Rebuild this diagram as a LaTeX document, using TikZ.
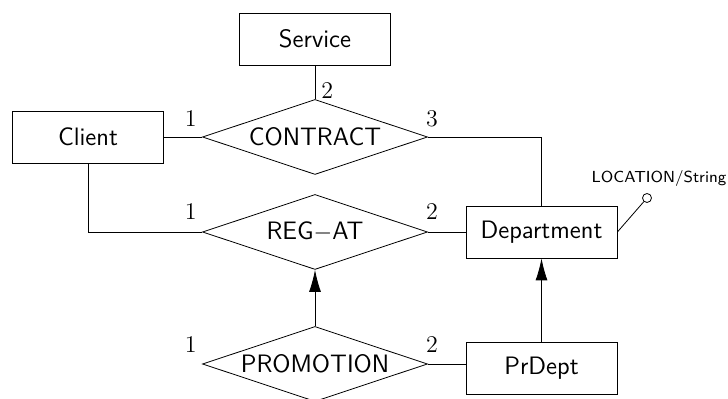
\documentclass[tikz,border=0pt]{standalone}
\usetikzlibrary{positioning}
\usetikzlibrary{shapes.geometric}
\usetikzlibrary{arrows.meta}
\newcommand\erfont{\fontsize{12.6}{15}\selectfont}
\tikzset{
  ent/.style={draw,minimum width=75.5pt,minimum height=26pt,inner sep=0pt,font=\erfont\sffamily},
  rel/.style={draw,diamond,aspect=3,minimum width=112.5pt,minimum height=37.5pt,inner sep=0pt,font=\erfont\sffamily},
  num/.style={inner sep=0pt,font=\erfont},
  isa/.style={-{Latex[length=11pt,width=6pt]}}}
\begin{document}
\begin{tikzpicture}[x=0.5pt,y=-0.5pt]
\useasboundingbox (0,0) rectangle (728,399);
\node[ent] (Sv) at (315,39) {Service};
\node[ent] (Cl) at (88,137) {Client};
\node[rel] (Ct) at (315,137) {CONTRACT};
\node[rel] (Rg) at (315,232) {REG$-$AT};
\node[rel] (Pm) at (315,364) {PROMOTION};
\node[ent] (Dp) at (541.5,232) {Department};
\node[ent] (Pd) at (541.5,368) {PrDept};
\node[draw,circle,inner sep=0pt,minimum size=4.5pt] (At) at (647,198) {};
\node[font=\footnotesize\sffamily,inner sep=0pt,above=3pt of At,xshift=6pt] (AtL) {LOCATION/String};
\node[num,above left=5pt and 2.5pt of Ct.west] (Ct1) {$1$};
\node[num,above right=0pt and 3pt of Ct.north] (Ct2) {$2$};
\node[num,above=5pt of Ct.east,xshift=2pt] (Ct3) {$3$};
\node[num,above left=6pt and 2.5pt of Rg.west] (Rg1) {$1$};
\node[num,above=6pt of Rg.east,xshift=2pt] (Rg2) {$2$};
\node[num,above left=5.5pt and 2.5pt of Pm.west] (Pm1) {$1$};
\node[num,above=5.5pt of Pm.east,xshift=2pt] (Pm2) {$2$};
\draw (Sv) -- (Ct);
\draw (Cl) -- (Ct);
\draw (Ct.east) -| (Dp.north);
\draw (Cl.south) |- (Rg.west);
\draw (Rg) -- (Dp);
\draw (Pm.east) -- (Pm.east -| Pd.west);
\draw[isa] (Pm) -- (Rg);
\draw[isa] (Pd) -- (Dp);
\draw (Dp.east) -- (At);
\end{tikzpicture}
\end{document}
